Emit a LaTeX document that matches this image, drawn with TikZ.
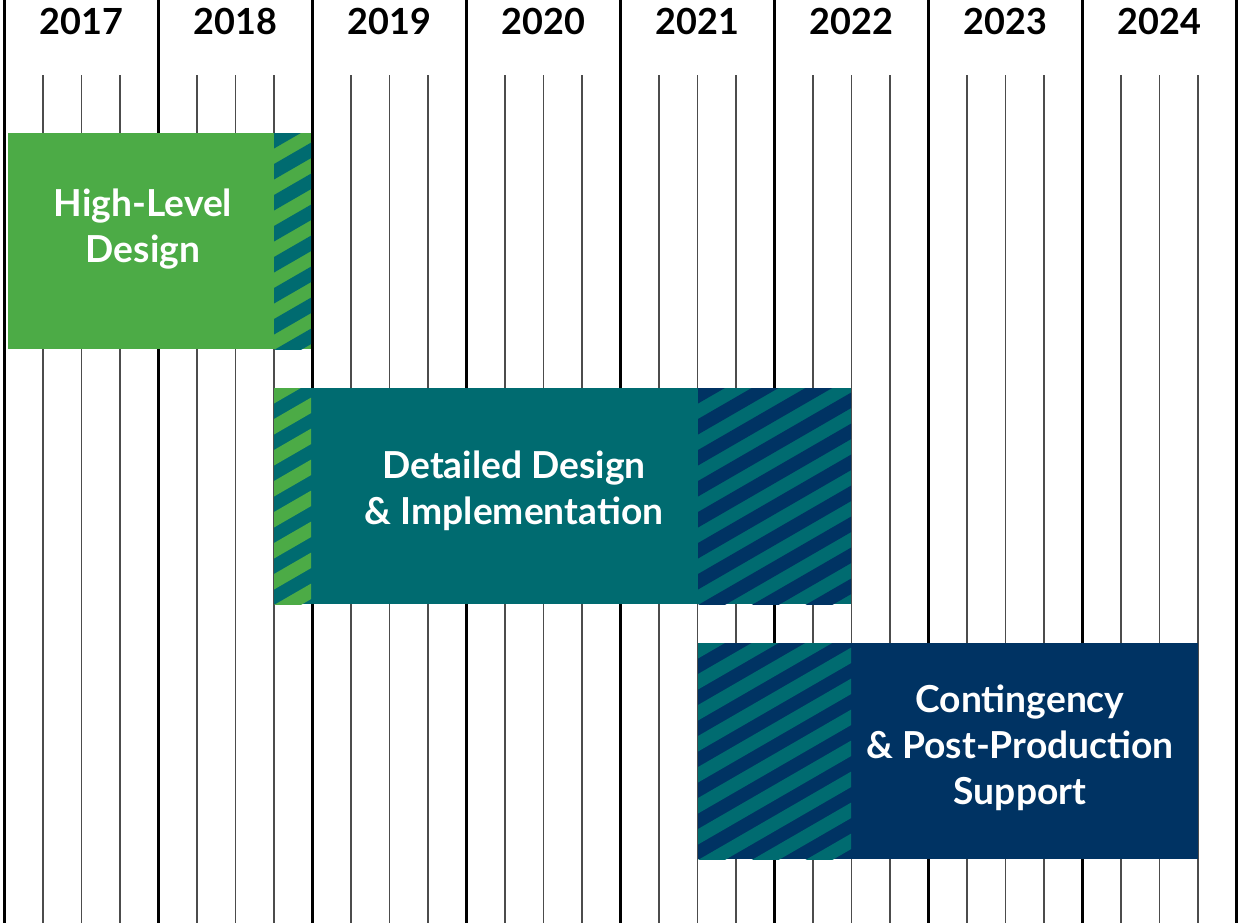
\documentclass[tikz,border=0pt]{standalone}
\usepackage{fontspec}
\setmainfont{Lato}

\definecolor{hlgreen}{HTML}{4CAB46}
\definecolor{ddteal}{HTML}{006B70}
\definecolor{cpnavy}{HTML}{003363}

\tikzset{
	yearline/.style={line width=1.3pt,black},
	qline/.style={line width=0.8pt,black!70},
	yearlabel/.style={font=\fontsize{18}{18}\selectfont\bfseries},
	phase/.style={font=\fontsize{18.6}{23}\selectfont\bfseries,text=white,align=center}
}

% hatched part of a bar: x1,y1,x2,y2,stripe colour
\newcommand{\hatchpart}[5]{
	\begin{scope}
		\clip (#1,#2) rectangle (#3,#4);
		\foreach \k in {-1,...,12}
			\fill[#5] ({#1},{#2+\k*31}) -- ({#1+200},{#2+\k*31-115.5}) -- ({#1+200},{#2+\k*31-100}) -- ({#1},{#2+\k*31+15.5}) -- cycle;
	\end{scope}
}

\begin{document}
\begin{tikzpicture}[x=0.5pt,y=-0.5pt]
		\useasboundingbox[fill=white] (0,0) rectangle (1238,923);
		%grid
			\foreach \q in {0,...,31}
				\draw[qline] ({4.5+38.5*\q},75) -- ({4.5+38.5*\q},923);
			\foreach \y in {0,...,8}
				\draw[yearline] ({4.5+154*\y},0) -- ({4.5+154*\y},923);
		%years
			\foreach \yr [count=\i from 0] in {2017,...,2024}
				\node[yearlabel] (y\yr) at ({81.5+154*\i},21) {\yr};
		%high-level design
			\fill[hlgreen] (8,133) rectangle (311,349);
			\hatchpart{274}{133}{311}{349}{ddteal}
			\node[phase] (hld) at (143,229) {High-Level\\Design};
		%detailed design
			\fill[ddteal] (274,388) rectangle (851,604);
			\hatchpart{274}{388}{311}{604}{hlgreen}
			\hatchpart{698}{388}{851}{604}{cpnavy}
			\node[phase] (ddi) at (514,491) {Detailed Design\\\& Implementation};
		%contingency
			\fill[cpnavy] (698,643) rectangle (1198,859);
			\hatchpart{698}{643}{851}{859}{ddteal}
			\node[phase] (cps) at (1020,748) {Contingency\\\& Post-Production\\Support};
	\end{tikzpicture}
\end{document}
